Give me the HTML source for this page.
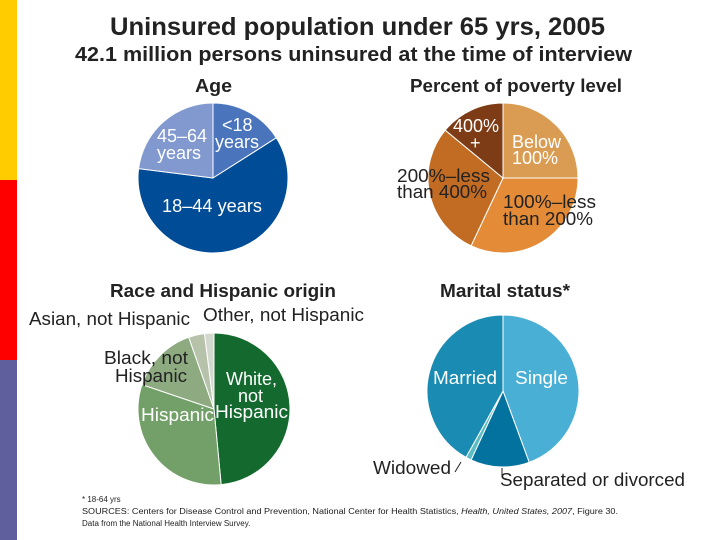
<!DOCTYPE html>
<html><head><meta charset="utf-8"><style>
body{margin:0;width:720px;height:540px;background:#fff;overflow:hidden;font-family:"Liberation Sans",sans-serif;}
svg{position:absolute;left:0;top:0}
text{font-family:"Liberation Sans",sans-serif}
</style></head><body>
<svg id="s" width="720" height="540">
<rect x="0" y="0" width="17" height="180" fill="#ffcc00"/>
<rect x="0" y="180" width="17" height="180" fill="#ff0000"/>
<rect x="0" y="360" width="17" height="180" fill="#5f5f9e"/>
<text x="110" y="35" font-size="25" font-weight="bold" fill="#222" textLength="495" lengthAdjust="spacingAndGlyphs">Uninsured population under 65 yrs, 2005</text>
<text x="75" y="61" font-size="20" font-weight="bold" fill="#222" textLength="557" lengthAdjust="spacingAndGlyphs">42.1 million persons uninsured at the time of interview</text>
<text x="195" y="92" font-size="18" font-weight="bold" fill="#222" textLength="37" lengthAdjust="spacingAndGlyphs">Age</text>
<text x="410" y="92" font-size="18" font-weight="bold" fill="#222" textLength="212" lengthAdjust="spacingAndGlyphs">Percent of poverty level</text>
<text x="110" y="297" font-size="18" font-weight="bold" fill="#222" textLength="226" lengthAdjust="spacingAndGlyphs">Race and Hispanic origin</text>
<text x="440" y="297" font-size="18" font-weight="bold" fill="#222" textLength="130" lengthAdjust="spacingAndGlyphs">Marital status*</text>
<g id="pies"></g>
<g font-size="18" fill="#fff">
<text x="222" y="131">&lt;18</text><text x="215" y="148">years</text>
<text x="157" y="142">45–64</text><text x="157" y="159">years</text>
<text x="162" y="212" textLength="100" lengthAdjust="spacingAndGlyphs">18–44 years</text>
</g>
<g font-size="18">
<text x="453" y="132" fill="#fff">400%</text><text x="470" y="149" fill="#fff">+</text>
<text x="512" y="148" fill="#fff">Below</text><text x="512" y="164" fill="#fff">100%</text>
<text x="397" y="182" fill="#222" textLength="93" lengthAdjust="spacingAndGlyphs">200%–less</text><text x="397" y="198" fill="#222" textLength="90" lengthAdjust="spacingAndGlyphs">than 400%</text>
<text x="503" y="208" fill="#222" textLength="93" lengthAdjust="spacingAndGlyphs">100%–less</text><text x="503" y="225" fill="#222" textLength="90" lengthAdjust="spacingAndGlyphs">than 200%</text>
</g>
<g font-size="18">
<text x="29" y="325" fill="#222" textLength="161" lengthAdjust="spacingAndGlyphs">Asian, not Hispanic</text>
<text x="203" y="321" fill="#222" textLength="161" lengthAdjust="spacingAndGlyphs">Other, not Hispanic</text>
<text x="104" y="364" fill="#222" textLength="84" lengthAdjust="spacingAndGlyphs">Black, not</text><text x="115" y="382" fill="#222" textLength="72" lengthAdjust="spacingAndGlyphs">Hispanic</text>
<text x="226" y="385" fill="#fff">White,</text><text x="238" y="402" fill="#fff">not</text><text x="215" y="418" fill="#fff" textLength="73" lengthAdjust="spacingAndGlyphs">Hispanic</text>
<text x="141" y="421" fill="#fff" textLength="73" lengthAdjust="spacingAndGlyphs">Hispanic</text>
</g>
<g font-size="18">
<text x="433" y="384" fill="#fff" textLength="64" lengthAdjust="spacingAndGlyphs">Married</text><text x="515" y="384" fill="#fff" textLength="53" lengthAdjust="spacingAndGlyphs">Single</text>
<text x="373" y="474" fill="#222" textLength="78" lengthAdjust="spacingAndGlyphs">Widowed</text>
<text x="500" y="486" fill="#222" textLength="185" lengthAdjust="spacingAndGlyphs">Separated or divorced</text>
<line x1="461" y1="462" x2="455" y2="472" stroke="#222"/>
<line x1="502" y1="468" x2="502" y2="476" stroke="#222"/>
</g>
<g font-size="8" fill="#222">
<text x="82" y="502">* 18-64 yrs</text>
<text x="82" y="514" textLength="536" lengthAdjust="spacingAndGlyphs">SOURCES: Centers for Disease Control and Prevention, National Center for Health Statistics, <tspan font-style="italic">Health, United States, 2007</tspan>, Figure 30.</text>
<text x="82" y="526">Data from the National Health Interview Survey.</text>
</g>
</svg>
<script>
const ageCats=["<18","18-44","45-64"];
const ageVals=[16,61,23];
const povCats=["Below 100%","100%-less than 200%","200%-less than 400%","400%+"];
const povVals=[25,32,29,14];
const raceCats=["White, not Hispanic","Hispanic","Black, not Hispanic","Asian, not Hispanic","Other, not Hispanic"];
const raceVals=[48.5,31.7,14.4,3.4,2];
const marCats=["Single","Separated or divorced","Widowed","Married"];
const marVals=[44.4,12.5,1.2,41.9];
const NS="http://www.w3.org/2000/svg";
const g=document.getElementById('pies');
function pie(name,cats,vals,cx,cy,r,colors){
  const tot=vals.reduce((a,b)=>a+b,0);let a=0;
  cats.forEach((c,i)=>{
    const a0=a/tot*2*Math.PI;a+=vals[i];const a1=a/tot*2*Math.PI;
    const x0=cx+r*Math.sin(a0),y0=cy-r*Math.cos(a0),x1=cx+r*Math.sin(a1),y1=cy-r*Math.cos(a1);
    const p=document.createElementNS(NS,'path');
    p.setAttribute('d',`M${cx},${cy}L${x0},${y0}A${r},${r} 0 ${a1-a0>Math.PI?1:0} 1 ${x1},${y1}Z`);
    p.setAttribute('fill',colors[i]);p.setAttribute('stroke','#fff');p.setAttribute('stroke-width','1');
    
    
    g.appendChild(p);
  });
}
pie('age',ageCats,ageVals,213,178,75,["#4a74bb","#004c97","#8199cf"]);
pie('poverty',povCats,povVals,503,178,75,["#d99c52","#e38b37","#c26b22","#7d3c16"]);
pie('race',raceCats,raceVals,214,409,76,["#146a2e","#72a068","#8daa80","#b7c2aa","#d3d8cf"]);
pie('marital',marCats,marVals,503,391,76,["#4aafd5","#04729f","#5cbcc4","#1a8bb2"]);
</script>
</body></html>
